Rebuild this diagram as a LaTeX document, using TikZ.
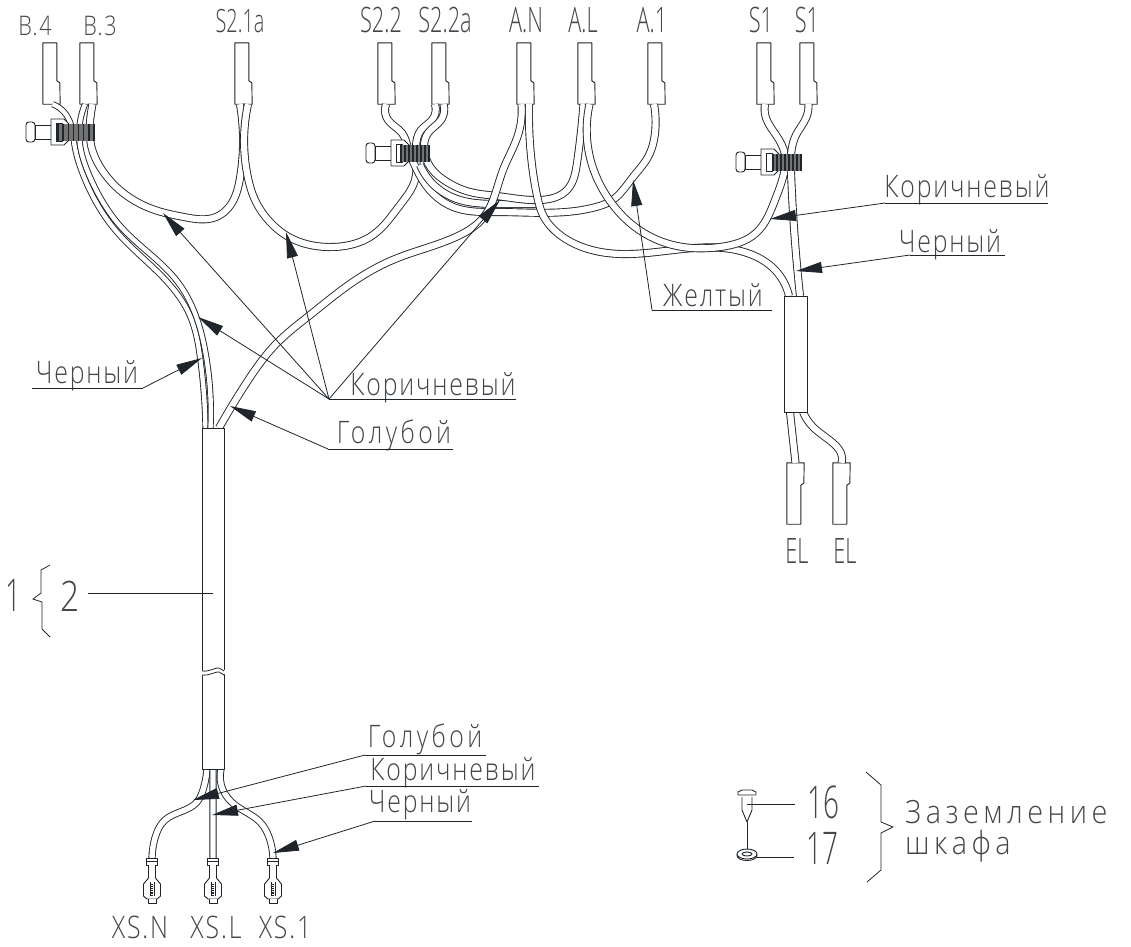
\documentclass[tikz,border=0pt]{standalone}
\usepackage{fontspec}
\setmainfont{Open Sans Light}[FakeStretch=0.62]
\newfontfamily\notefont{Open Sans Light}[FakeStretch=0.8,LetterSpace=6]
\newfontfamily\widefont{Open Sans Light}[FakeStretch=0.8,LetterSpace=11]
\newfontfamily\earthfont{Open Sans Light}[FakeStretch=0.9,LetterSpace=14]
\usetikzlibrary{arrows.meta, hobby}

\definecolor{inkdark}{HTML}{1F252B}

\tikzset{
	part/.style = {draw = inkdark, line width = 0.9pt, line join = round},
	wire/.style = {draw = inkdark, line width = 0.9pt, double = white, double distance = 6.2pt, use Hobby shortcut},
	thinwire/.style = {wire, double distance = 4.4pt},
	lowwire/.style = {wire, double distance = 5.4pt},
	termbox/.style = {fill = white, inner sep = 0pt, minimum width = 17pt, minimum height = 61pt},
	sheath/.style = {part, fill = white, inner sep = 0pt},
	leader/.style = {draw = inkdark, line width = 0.8pt, -{Stealth[length = 26pt, width = 11pt, inset = 0pt]}},
	plainline/.style = {draw = inkdark, line width = 0.8pt},
	pinname/.style = {inner sep = 0pt, anchor = base, font = \fontsize{35}{35}\selectfont, text = inkdark!85},
	smallname/.style = {inner sep = 0pt, anchor = base, font = \notefont\fontsize{27}{27}\selectfont, text = inkdark!85},
	lugname/.style = {inner sep = 0pt, anchor = base, font = \notefont\fontsize{31}{31}\selectfont, text = inkdark!85},
	notetext/.style = {inner sep = 0pt, anchor = base, font = \notefont\fontsize{31}{31}\selectfont, text = inkdark!85},
	earthtext/.style = {inner sep = 0pt, anchor = base west, font = \earthfont\fontsize{32}{32}\selectfont, text = inkdark!85},
	bigtext/.style = {inner sep = 0pt, anchor = base, font = \fontsize{45}{45}\selectfont, text = inkdark!85},
	itemtext/.style = {inner sep = 0pt, anchor = base, font = \notefont\fontsize{42}{42}\selectfont, text = inkdark!85}
}

% #1 node, #2 left edge: plug with its notch on the right, hanging from the top row
\newcommand{\plugdown}[2]{
	\node [termbox] (#1) at (#2+8.5,73.5) {};
	\draw [part] (#1.north west) -- ++(14,0) -- ++(0,38) -- ++(3,2) -- (#1.south east) -- (#1.south west) -- cycle;
}
% #1 node, #2 left edge: the same plug turned over, for EL
\newcommand{\plugup}[2]{
	\node [termbox] (#1) at (#2+8.5,493.5) {};
	\draw [part] (#1.south west) -- ++(14,0) -- ++(0,-39) -- ++(3,-2) -- (#1.north east) -- (#1.north west) -- cycle;
}
% #1 x, #2 y of the head, #3 and #4 where the ribbed band runs
\newcommand{\cabletie}[4]{
	\begin{scope}[shift = {(#1,#2)}]
		\draw [part, fill = white, rounded corners = 3pt] (0,-10) rectangle (9,10);
		\draw [part, fill = white] (9,-7) rectangle (26,7);
		\draw [part, fill = white] (25,-13) -- (38,-13) -- (43,-8) -- (43,8) -- (38,13) -- (25,13) -- cycle;
		\draw [part, fill = white] (30,-9) rectangle (36,9);
		\fill [black!55] (#3,-8.5) rectangle (#4,8.5);
		\foreach \s in {0,...,7}
			\draw [inkdark, line width = 1.3pt] ({#3+1+\s*(#4-#3-2)/7},-8.5) -- ({#3+1+\s*(#4-#3-2)/7},8.5);
	\end{scope}
}
% #1 name, #2 x: ring terminal
\newcommand{\ringlug}[2]{
	\coordinate (#1) at (#2,858);
	\begin{scope}[shift = {(#1)}]
		\draw [part, fill = white] (-5.5,0) rectangle (5.5,7);
		\draw [part] (-5.5,3.5) -- (5.5,3.5);
		\draw [part, fill = white] (-3.5,7) -- (-3.5,20) -- (3.5,20) -- (3.5,7);
		\draw [part, fill = white] (-3.5,20) -- (-8.5,26) -- (-8.5,38) -- (-5,41) -- (5,41) -- (8.5,38) -- (8.5,26) -- (3.5,20);
		\draw [part, fill = white] (-4,41) -- (-4,45) -- (4,45) -- (4,41);
		\draw [part] (-2,24) -- (-2,38) (2,24) -- (2,38);
		\draw [inkdark, line width = 1.1pt, densely dotted] (0,26) -- (0,37);
	\end{scope}
}
% #1 name, #2 x from, #3 x to, #4 y of the shelf, #5 text x, #6 baseline, #7 text
\newcommand{\shelfnote}[7]{
	\coordinate (#1) at (#2,#4);
	\node [notetext] (#1text) at (#5,#6) {#7};
	\draw [plainline] (#1) -- (#3,#4);
}

\begin{document}
\begin{tikzpicture}[x = 1pt, y = -1pt]
	\useasboundingbox (0,0) rectangle (1131,946);

	% plugs along the top
	\plugdown{bfour}{43}
	\plugdown{bthree}{80}
	\plugdown{sonea}{235}
	\plugdown{stwo}{378}
	\plugdown{stwoa}{432}
	\plugdown{an}{517}
	\plugdown{al}{578}
	\plugdown{aone}{648}
	\plugdown{sleft}{757}
	\plugdown{sright}{800}
	\plugup{elone}{787}
	\plugup{eltwo}{833}

	\coordinate (mainin) at (213,428);
	\coordinate (mainout) at (213,769);
	\coordinate (sidein) at (795,296);
	\coordinate (sideout) at (795,412);

	% wires
	\begin{scope}
		\draw [thinwire] ([xshift = 1pt]bfour.south) .. (64,112) .. (71,125) .. (74.5,145) .. (84,177) .. (116,231) .. (170,285) .. (190.5,317) .. (200,357) .. ([xshift = -7.5pt]mainin);
		\draw [thinwire] ([xshift = -3.5pt]bthree.south) .. (80,122) .. (80,145) .. (90,177) .. (122,228) .. (177,281) .. (196,316) .. (205,350) .. ([xshift = -2.5pt]mainin);
		\draw [wire] ([xshift = 4pt]bthree.south) .. (90,122) .. (91,145) .. (102,170) .. (122,192) .. (158,211) .. (184,217) .. (216,217) .. (233,201) .. (240,178) .. ([xshift = -3.5pt]sonea.south);
		\draw [wire] ([xshift = 4.5pt]sonea.south) .. (248,178) .. (255,200) .. (270,222) .. (287,236) .. (328,247) .. (373,235) .. (400,205) .. (415,180) .. (416,147) .. (421,130) .. (432,120) .. ([xshift = -5.5pt]stwoa.south);
		\draw [wire] ([xshift = -0.5pt]stwo.south) .. (388,120) .. (402,133) .. (408,148) .. (416,168) .. (428,188) .. (456,208) .. (497,212) .. (596,207) .. (611,201) .. (633,177) .. (648,157) .. (655,133) .. ([xshift = -2.5pt]aone.south);
		\draw [wire] (420,165) .. (436,187) .. (460,200) .. (497,204) .. (537,204);
		\draw [wire] ([xshift = 3pt]stwoa.south) .. (441,120) .. (428,133) .. (424,148) .. (431,168) .. (447,182) .. (470,192) .. (497,196) .. (540,200) .. (567,190) .. (577,163) .. ([xshift = -3pt]al.south);
		\draw [wire] ([xshift = -4pt]an.south) .. (518,135) .. (503,170) .. (483,218) .. (458,236) .. (395,259) .. (350,284) .. (310,315) .. (277,343) .. (245,385) .. ([xshift = 6pt]mainin);
		\draw [wire] ([xshift = 3.5pt]an.south) .. (532,165) .. (538,200) .. (542,213) .. (560,235) .. (585,248) .. (612,253.5) .. (750,254) .. (772,267) .. ([xshift = -6pt]sidein);
		\draw [wire] ([xshift = 3pt]al.south) .. (592,165) .. (613,205) .. (635,227) .. (677,246) .. (720,247) .. (756,233) .. (775,200) .. (784,173) .. (785,155) .. (776,135) .. (766,118) .. ([xshift = -0.5pt]sleft.south);
		\draw [wire] ([xshift = 0pt]sright.south) .. (806,118) .. (796,135) .. (791,155) .. (791,172) .. ([xshift = 5pt]sidein);
		\draw [wire] ([xshift = -5pt]sideout) .. (793,440) .. (elone.north);
		\draw [wire] ([xshift = 8pt]sideout) .. (813,427) .. (833,443) .. (842,457) .. (eltwo.north);
		\draw [lowwire] ([xshift = -6pt]mainout) .. (203,790) .. (197,802) .. (165,820) .. (155,838) .. (152,858);
		\draw [lowwire] (213,769) .. (213,858);
		\draw [lowwire] ([xshift = 8pt]mainout) .. (223,790) .. (235,805) .. (260,822) .. (270,840) .. (273,858);
	\end{scope}

	\cabletie{26}{132}{31}{69}
	\cabletie{366}{153}{34}{64}
	\cabletie{736}{162}{36}{66}

	% sheaths
	\node [sheath, minimum width = 22pt, minimum height = 341pt] (mainsheath) at (213,598.5) {};
	\node [sheath, minimum width = 23pt, minimum height = 116pt] (sidesheath) at (795.5,354) {};
	\fill [white] (200,671) .. controls (210,672) and (216,666) .. (219,667) .. controls (221,667) and (223,670) .. (226,671) -- (226,675) .. controls (223,674) and (221,671) .. (219,671) .. controls (216,670) and (210,676) .. (200,675) -- cycle;
	\draw [plainline] (202,671) .. controls (210,672) and (216,667) .. (219,668) .. controls (221,668) and (222,671) .. (224,671);
	\draw [plainline] (202,675) .. controls (210,676) and (216,671) .. (219,672) .. controls (221,672) and (222,675) .. (224,675);

	\ringlug{xsn}{152}
	\ringlug{xsl}{213}
	\ringlug{xsone}{273}

	% pin names
	\node [smallname] (nbfour) at (35,35) {B.4};
	\node [smallname] (nbthree) at (100,35) {B.3};
	\node [pinname, font = \fontsize{32}{32}\selectfont] (nsonea) at (240,32) {S2.1a};
	\node [pinname] (nstwo) at (381,32) {S2.2};
	\node [pinname] (nstwoa) at (445,32) {S2.2a};
	\node [pinname] (nan) at (526,32) {A.N};
	\node [pinname] (nal) at (583,32) {A.L};
	\node [pinname] (naone) at (652,32) {A.1};
	\node [pinname] (nsleft) at (761,32) {S1};
	\node [pinname] (nsright) at (807,32) {S1};
	\node [pinname] (nelone) at (797,563) {EL};
	\node [pinname] (neltwo) at (845,563) {EL};
	\node [lugname] (nxsn) at (140,938) {XS.N};
	\node [lugname] (nxsl) at (216,938) {XS.L};
	\node [lugname] (nxsone) at (285,938) {XS.1};

	% colour notes
	\shelfnote{brownleft}{329}{516}{399}{433}{395}{Коричневый}
	\shelfnote{blueleft}{328}{453}{449}{394}{443}{\widefont\fontsize{31}{31}\selectfont Голубой}
	\shelfnote{blackleft}{143}{32}{388}{87}{383}{Черный}
	\shelfnote{brownright}{885}{1048}{203}{967}{197}{Коричневый}
	\shelfnote{blackright}{910}{1005}{255}{950}{252}{Черный}
	\shelfnote{yellowmid}{652}{772}{310}{713}{306}{Желтый}
	\shelfnote{bluelow}{365}{486}{755}{425}{747}{\widefont\fontsize{31}{31}\selectfont Голубой}
	\shelfnote{brownlow}{366}{539}{786}{453}{780}{Коричневый}
	\shelfnote{blacklow}{375}{472}{821}{420}{812}{Черный}

	\coordinate (tipa) at (163,213);
	\coordinate (tipb) at (286,232);
	\coordinate (tipc) at (198,317);
	\coordinate (tipd) at (500,200);
	\foreach \tip in {tipa, tipb, tipc, tipd}
		\draw [leader] (brownleft) -- (\tip);

	\coordinate (tipblue) at (230,406);
	\coordinate (tipblack) at (202,358);
	\coordinate (tipbrownr) at (770,219);
	\coordinate (tipblackr) at (796,271);
	\coordinate (tipyellow) at (633,180);
	\coordinate (tipbluel) at (193,800);
	\coordinate (tipbrownl) at (212,815);
	\coordinate (tipblackl) at (273,853);
	\draw [leader] (blueleft) -- (tipblue);
	\draw [leader] (blackleft) -- (tipblack);
	\draw [leader] (brownright) -- (tipbrownr);
	\draw [leader] (blackright) -- (tipblackr);
	\draw [leader] (yellowmid) -- (tipyellow);
	\draw [leader] (bluelow) -- (tipbluel);
	\draw [leader] (brownlow) -- (tipbrownl);
	\draw [leader] (blacklow) -- (tipblackl);

	% item 1 and 2 on the long sheath
	\node [bigtext] (itemone) at (13,611) {1};
	\node [itemtext] (itemtwo) at (70,611) {2};
	\coordinate (itemend) at (88,593);
	\draw [plainline] (itemend) -- (mainsheath.center |- itemend);
	\draw [plainline] (50,565) -- (41,570) -- (41,593) -- (33,599) -- (42,602) -- (42,629) -- (50,637);

	% earthing of the cabinet
	\node [bigtext] (itemsixteen) at (823,818) {16};
	\node [bigtext] (itemseventeen) at (822,864) {17};
	\coordinate (pinmid) at (747,804);
	\coordinate (pintip) at (747,822);
	\coordinate (washer) at (747,854);
	\draw [part] (742,797) -- (742,810) -- (pintip) -- (752,810) -- (752,797);
	\draw [part] (738,795) -- (738,792) -- (742,790) -- (752,790) -- (756,792) -- (756,795) -- cycle;
	\draw [part] (pintip) -- (washer);
	\draw [part, fill = white] ([yshift = -1.5pt]washer) ellipse [x radius = 10, y radius = 5];
	\draw [part, fill = white] (washer) ellipse [x radius = 10, y radius = 5];
	\draw [part] (washer) ellipse [x radius = 5, y radius = 2];
	\draw [plainline] (pinmid) -- (795,804);
	\draw [plainline] (757,857) -- (794,857);
	\draw [plainline] (866,772) -- (881,785) -- (881,822) -- (893,827) -- (881,833) -- (881,870) -- (867,882);
	\node [earthtext] (earthone) at (905,823) {Заземление};
	\node [earthtext] (earthtwo) at (905,854) {шкафа};
\end{tikzpicture}
\end{document}
